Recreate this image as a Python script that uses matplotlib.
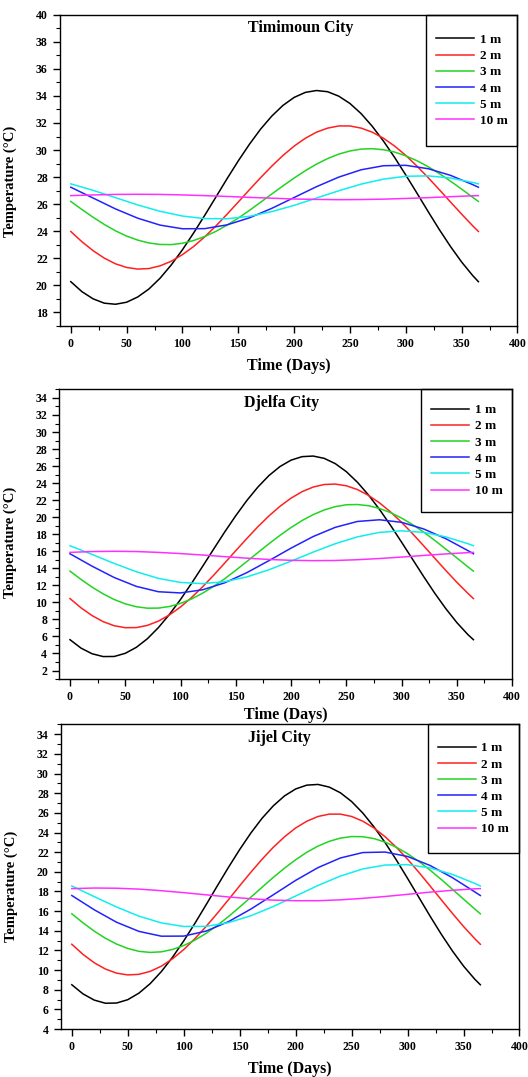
import matplotlib
matplotlib.use("Agg")
import matplotlib.pyplot as plt
from matplotlib.patches import Rectangle
from matplotlib.ticker import MultipleLocator

plt.rcParams['font.family'] = ['Liberation Serif', 'DejaVu Serif']
plt.rcParams['font.weight'] = 'bold'
plt.rcParams['axes.labelweight'] = 'bold'

# time axis (days): shallow depths read every 10 days, deep ones every 20
days_10 = [0, 10, 20, 30, 40, 50, 60, 70, 80, 90, 100, 110, 120, 130, 140,
           150, 160, 170, 180, 190, 200, 210, 220, 230, 240, 250, 260, 270,
           280, 290, 300, 310, 320, 330, 340, 350, 360, 365]
days_20 = [0, 20, 40, 60, 80, 100, 120, 140, 160, 180, 200,
           220, 240, 260, 280, 300, 320, 340, 360, 365]

depths = ['1 m', '2 m', '3 m', '4 m', '5 m', '10 m']
colors = ['black', '#ff2020', '#22d422', '#2222ff', '#10eeee', '#ff30ff']

# Timimoun City
tim_1m = [20.27, 19.53, 19.00, 18.68, 18.60, 18.75, 19.14, 19.73, 20.53, 21.51,
          22.63, 23.87, 25.18, 26.53, 27.89, 29.20, 30.43, 31.55, 32.51, 33.30,
          33.89, 34.26, 34.40, 34.31, 33.98, 33.44, 32.69, 31.75, 30.66, 29.45,
          28.15, 26.81, 25.45, 24.12, 22.87, 21.72, 20.71, 20.27]
tim_2m = [23.98, 23.22, 22.56, 22.01, 21.59, 21.32, 21.20, 21.24, 21.44, 21.78,
          22.27, 22.87, 23.59, 24.39, 25.26, 26.16, 27.07, 27.96, 28.81, 29.60,
          30.29, 30.87, 31.32, 31.62, 31.78, 31.78, 31.62, 31.32, 30.87, 30.29,
          29.60, 28.81, 27.96, 27.07, 26.16, 25.26, 24.39, 23.98]
tim_3m = [26.20, 25.60, 25.03, 24.50, 24.03, 23.64, 23.34, 23.13, 23.02, 23.01,
          23.11, 23.31, 23.61, 23.99, 24.45, 24.97, 25.54, 26.14, 26.75, 27.35,
          27.93, 28.47, 28.96, 29.37, 29.70, 29.93, 30.07, 30.10, 30.02, 29.85,
          29.57, 29.21, 28.77, 28.26, 27.70, 27.11, 26.50, 26.20]
tim_4m = [27.25, 26.45, 25.65, 24.96, 24.45, 24.18, 24.19, 24.47, 24.99, 25.69,
          26.49, 27.29, 28.00, 28.54, 28.84, 28.87, 28.62, 28.13, 27.44, 27.25]
tim_5m = [27.50, 27.02, 26.48, 25.94, 25.47, 25.12, 24.93, 24.92, 25.10, 25.45,
          25.91, 26.45, 26.99, 27.48, 27.85, 28.06, 28.09, 27.93, 27.60, 27.50]
tim_10m = [26.63, 26.68, 26.72, 26.73, 26.72, 26.68, 26.63, 26.57, 26.50, 26.44,
           26.38, 26.35, 26.33, 26.34, 26.37, 26.42, 26.48, 26.55, 26.62, 26.63]

# Djelfa City
dje_1m = [5.62, 4.63, 3.97, 3.64, 3.65, 4.02, 4.72, 5.73, 7.04, 8.59,
          10.34, 12.24, 14.23, 16.26, 18.27, 20.18, 21.96, 23.54, 24.89, 25.95,
          26.70, 27.11, 27.18, 26.91, 26.29, 25.35, 24.11, 22.62, 20.92, 19.05,
          17.07, 15.05, 13.03, 11.08, 9.27, 7.63, 6.22, 5.62]
dje_2m = [10.45, 9.36, 8.45, 7.74, 7.26, 7.03, 7.04, 7.30, 7.80, 8.53,
          9.46, 10.57, 11.83, 13.19, 14.62, 16.07, 17.50, 18.88, 20.15, 21.28,
          22.24, 23.00, 23.54, 23.84, 23.89, 23.69, 23.25, 22.57, 21.69, 20.62,
          19.40, 18.06, 16.64, 15.19, 13.75, 12.36, 11.06, 10.45]
dje_3m = [13.67, 12.69, 11.79, 11.00, 10.34, 9.83, 9.49, 9.32, 9.33, 9.52,
          9.88, 10.40, 11.08, 11.88, 12.78, 13.77, 14.80, 15.85, 16.88, 17.87,
          18.79, 19.61, 20.30, 20.85, 21.24, 21.46, 21.49, 21.35, 21.03, 20.54,
          19.90, 19.13, 18.25, 17.28, 16.26, 15.22, 14.17, 13.67]
dje_4m = [15.71, 14.25, 12.92, 11.88, 11.25, 11.11, 11.48, 12.30, 13.49, 14.90,
          16.37, 17.73, 18.81, 19.50, 19.70, 19.40, 18.62, 17.48, 16.08, 15.71]
dje_5m = [16.65, 15.63, 14.57, 13.60, 12.82, 12.34, 12.20, 12.43, 12.99, 13.83,
          14.84, 15.90, 16.89, 17.69, 18.22, 18.40, 18.22, 17.69, 16.89, 16.65]
dje_10m = [15.87, 15.97, 16.00, 15.97, 15.87, 15.73, 15.56, 15.37, 15.19, 15.04,
           14.94, 14.90, 14.92, 15.01, 15.15, 15.32, 15.51, 15.69, 15.84, 15.87]

# Jijel City
jij_1m = [8.51, 7.58, 6.95, 6.63, 6.65, 6.99, 7.66, 8.62, 9.85, 11.31,
          12.97, 14.76, 16.65, 18.57, 20.46, 22.27, 23.95, 25.45, 26.71, 27.72,
          28.43, 28.82, 28.89, 28.62, 28.04, 27.15, 25.98, 24.57, 22.96, 21.20,
          19.33, 17.42, 15.51, 13.67, 11.96, 10.41, 9.08, 8.51]
jij_2m = [12.63, 11.60, 10.75, 10.11, 9.69, 9.51, 9.57, 9.87, 10.40, 11.15,
          12.09, 13.20, 14.44, 15.78, 17.17, 18.58, 19.96, 21.28, 22.49, 23.56,
          24.46, 25.15, 25.63, 25.87, 25.87, 25.63, 25.15, 24.46, 23.56, 22.49,
          21.28, 19.96, 18.58, 17.17, 15.78, 14.44, 13.20, 12.63]
jij_3m = [15.73, 14.81, 13.97, 13.24, 12.65, 12.20, 11.91, 11.80, 11.86, 12.10,
          12.50, 13.05, 13.74, 14.55, 15.45, 16.42, 17.42, 18.43, 19.43, 20.37,
          21.23, 21.99, 22.62, 23.10, 23.43, 23.59, 23.57, 23.38, 23.02, 22.50,
          21.84, 21.06, 20.18, 19.23, 18.23, 17.22, 16.22, 15.73]
jij_4m = [17.59, 16.14, 14.87, 13.94, 13.45, 13.46, 13.97, 14.93, 16.21, 17.66,
          19.13, 20.43, 21.41, 21.96, 22.01, 21.56, 20.65, 19.41, 17.96, 17.59]
jij_5m = [18.56, 17.48, 16.42, 15.49, 14.80, 14.44, 14.45, 14.83, 15.53, 16.47,
          17.54, 18.61, 19.57, 20.29, 20.69, 20.73, 20.40, 19.74, 18.82, 18.56]
jij_10m = [18.29, 18.35, 18.33, 18.24, 18.08, 17.88, 17.66, 17.44, 17.26, 17.12,
           17.06, 17.06, 17.15, 17.30, 17.49, 17.71, 17.93, 18.12, 18.27, 18.29]

day_axes = [days_10, days_10, days_10, days_20, days_20, days_20]

panels = [
    ('Timimoun City', [tim_1m, tim_2m, tim_3m, tim_4m, tim_5m, tim_10m],
     [0.1129, 0.6974, 0.8672, 0.2889], (17, 40), 18, (0.527, 0.956), 6, 0.463),
    ('Djelfa City', [dje_1m, dje_2m, dje_3m, dje_4m, dje_5m, dje_10m],
     [0.1116, 0.3695, 0.8583, 0.2689], (1, 35), 2, (0.492, 0.953), 3, 0.472),
    ('Jijel City', [jij_1m, jij_2m, jij_3m, jij_4m, jij_5m, jij_10m],
     [0.1148, 0.0445, 0.8691, 0.2829], (4, 35), 4, (0.477, 0.956), 6, 0.467),
]

fig = plt.figure(figsize=(5.28, 10.77), dpi=100)

for title, series, pos, ylim, ystart, tpos, xpad, ylab_y in panels:
    ax = fig.add_axes(pos)
    for d, vals, lab, c in zip(day_axes, series, depths, colors):
        ax.plot(d, vals, color=c, lw=1.1, label=lab)

    ax.set_xlim(-10, 400)
    ax.set_ylim(*ylim)
    ax.set_xticks(range(0, 401, 50))
    ax.set_yticks(range(ystart, ylim[1] + 1, 2))
    ax.xaxis.set_minor_locator(MultipleLocator(25))
    ax.yaxis.set_minor_locator(MultipleLocator(1))
    ax.tick_params(which='major', direction='out', length=5, width=1,
                   labelsize=8.5, top=False, right=False)
    ax.tick_params(which='minor', direction='out', length=3, width=0.8,
                   top=False, right=False)
    for lbl in ax.get_xticklabels() + ax.get_yticklabels():
        lbl.set_fontweight('bold')
    for sp in ax.spines.values():
        sp.set_linewidth(1.0)

    ax.set_xlabel('Time (Days)', fontsize=11.5, labelpad=xpad)
    ax.set_ylabel('Temperature (°C)', fontsize=10.5)
    ax.yaxis.set_label_coords(-0.093, ylab_y)

    ax.text(tpos[0], tpos[1], title, transform=ax.transAxes,
            ha='center', va='center', fontsize=11.5, fontweight='bold')

    # legend box drawn separately so the padding matches the original
    ax.add_patch(Rectangle((0.80, 0.578), 0.20, 0.422, transform=ax.transAxes,
                           fill=False, edgecolor='black', lw=1.0, clip_on=False))
    ax.legend(loc='center', bbox_to_anchor=(0.90, 0.789), frameon=False,
              handlelength=2.9, handletextpad=0.4, labelspacing=0.3,
              prop={'weight': 'bold', 'size': 9.5})

fig.savefig('out.png', dpi=100)
